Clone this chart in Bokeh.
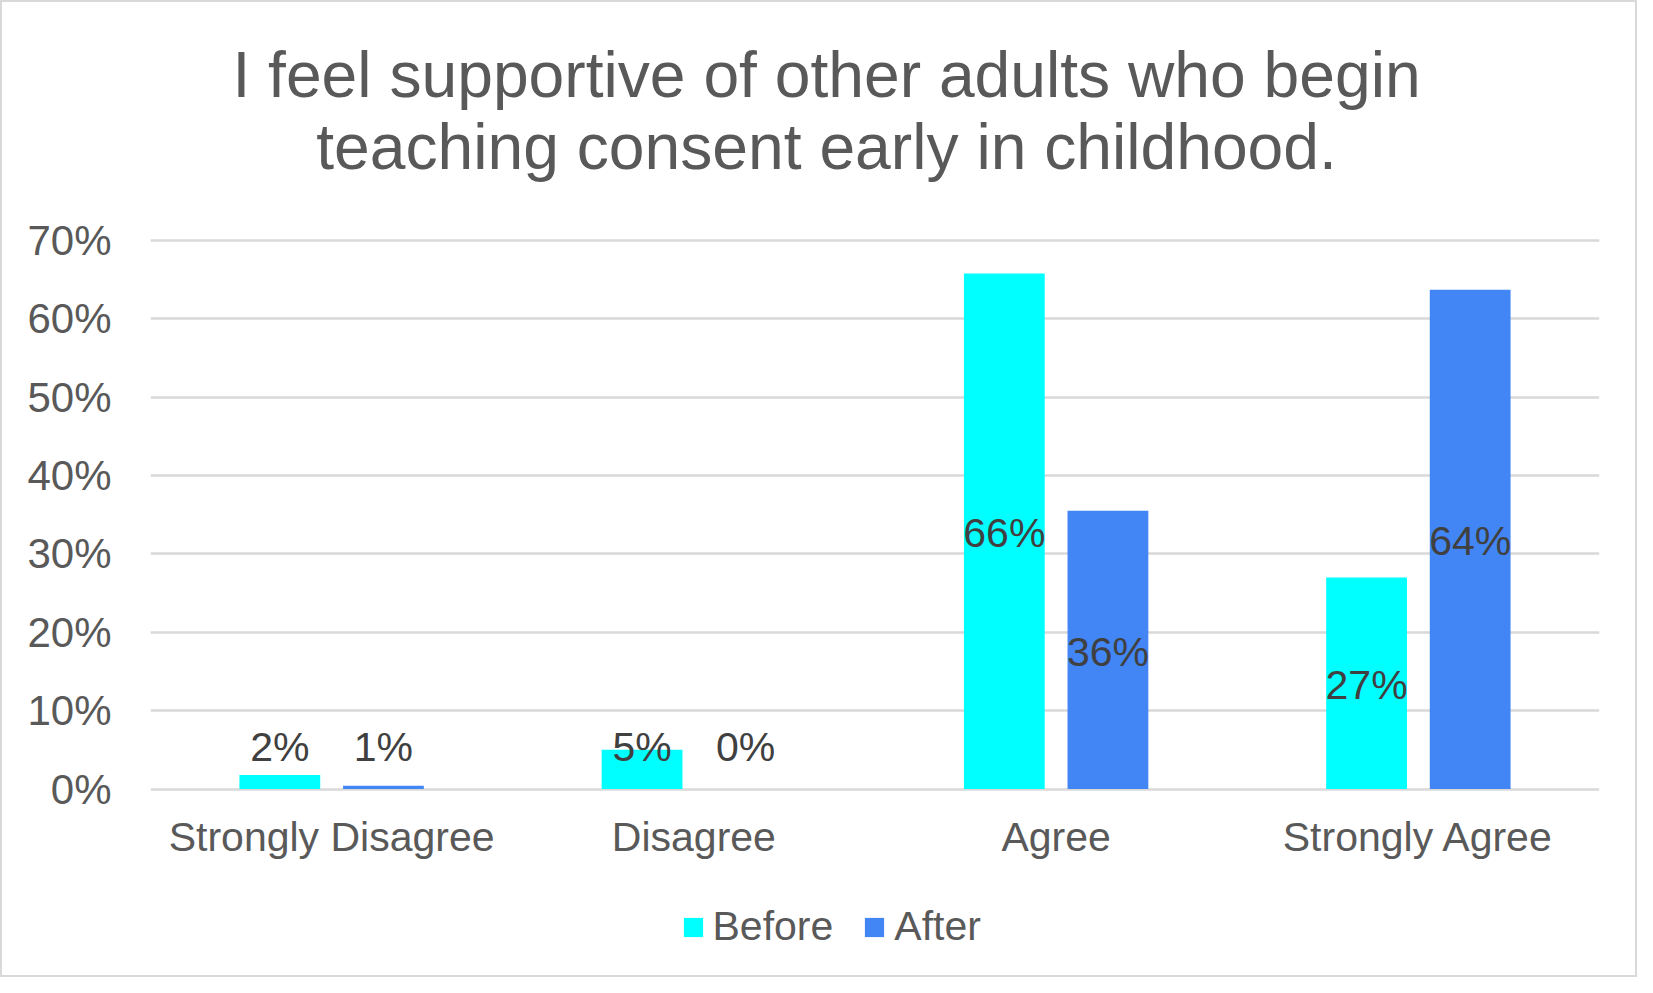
from bokeh.plotting import figure
from bokeh.models import (FactorRange, Range1d, FixedTicker, NumeralTickFormatter,
                          ColumnDataSource, Legend, LegendItem)
from bokeh.transform import dodge
from bokeh.core.properties import value
from bokeh.embed import file_html
from bokeh.resources import INLINE

categories = ["Strongly Disagree", "Disagree", "Agree", "Strongly Agree"]
before = [0.018, 0.050, 0.658, 0.270]
after = [0.004, 0.0, 0.355, 0.637]
before_labels = ["2%", "5%", "66%", "27%"]
after_labels = ["1%", "0%", "36%", "64%"]
y_ticks = [0.0, 0.1, 0.2, 0.3, 0.4, 0.5, 0.6, 0.7]
title_lines = ["I feel supportive of other adults who begin",
               "teaching consent early in childhood."]

FONT = "Liberation Sans"
CYAN = "#00FFFF"
BLUE = "#4285F4"
GREY_TEXT = "#595959"

# layout constants (pixels)
W, H = 1637, 977
D = 2.5               # compensation for the 2px page border
LEFT, RIGHT = 150 - D, 1600 - D
Y0 = 789.0 - D        # pixel row of the 0% line
PX = 783.6            # pixels per unit (100%)


def py(pix):
    """pixel row -> data y"""
    return (Y0 - pix) / PX


def px_x(pix):
    """pixel column -> synthetic categorical x"""
    return (pix - LEFT) / (RIGHT - LEFT) * len(categories)


LAB_FS = 41
lab_off = 2.0 / PX
lab_min = 41.7 / PX
src = ColumnDataSource(dict(
    cat=categories, before=before, after=after,
    bl=before_labels, al=after_labels,
    by=[max(v / 2 - lab_off, lab_min) for v in before],
    ay=[max(v / 2 - lab_off, lab_min) for v in after],
    cy=[py(Y0 + 25)] * len(categories),
))

p = figure(width=W, height=H, x_range=FactorRange(*categories),
           y_range=Range1d(py(H), py(0)), output_backend="svg",
           toolbar_location=None, x_axis_location=None,
           min_border_left=int(round(LEFT)), min_border_right=int(round(W - RIGHT)),
           min_border_top=0, min_border_bottom=0)
p.title = None

# title (two centred lines)
p.text(x=[px_x(826.5 - D)] * 2, y=[py(74.5 - D), py(146.5 - D)], text=title_lines,
       text_align="center", text_baseline="alphabetic", text_font=value(FONT),
       text_font_size="64.2px", text_color=GREY_TEXT)

bw = 0.223
off = 0.143
rb = p.vbar(x=dodge("cat", -off, range=p.x_range), top="before", width=bw, source=src,
            fill_color=CYAN, line_color=None)
ra = p.vbar(x=dodge("cat", off, range=p.x_range), top="after", width=bw, source=src,
            fill_color=BLUE, line_color=None)

# data labels
p.text(x=dodge("cat", -off, range=p.x_range), y="by", text="bl", source=src,
       text_align="center", text_baseline="alphabetic", text_font=value(FONT),
       text_font_size=f"{LAB_FS}px", text_color="#404040")
p.text(x=dodge("cat", off, range=p.x_range), y="ay", text="al", source=src,
       text_align="center", text_baseline="alphabetic", text_font=value(FONT),
       text_font_size=f"{LAB_FS}px", text_color="#404040")

# category labels
p.text(x="cat", y="cy", text="cat", source=src, text_align="center",
       text_baseline="top", text_font=value(FONT), text_font_size="41px",
       text_color=GREY_TEXT)

p.outline_line_color = None
p.xgrid.grid_line_color = None
p.ygrid.grid_line_color = "#D9D9D9"
p.ygrid.grid_line_width = 2.5
p.ygrid.ticker = FixedTicker(ticks=y_ticks)

p.yaxis.ticker = FixedTicker(ticks=y_ticks)
p.yaxis.formatter = NumeralTickFormatter(format="0%")
p.yaxis.axis_line_color = None
p.yaxis.major_tick_line_color = None
p.yaxis.minor_tick_line_color = None
p.yaxis.major_label_text_font = FONT
p.yaxis.major_label_text_font_size = "42px"
p.yaxis.major_label_text_color = GREY_TEXT
p.yaxis.major_label_standoff = 33

legend = Legend(items=[LegendItem(label="Before", renderers=[rb]),
                       LegendItem(label="After", renderers=[ra])],
                orientation="horizontal", location=(530.5, 29),
                label_text_font=FONT, label_text_font_size="41px",
                label_text_color=GREY_TEXT, glyph_width=24, glyph_height=24,
                label_height=20, label_standoff=8, spacing=29,
                border_line_color=None, background_fill_alpha=0,
                margin=0, padding=0)
p.add_layout(legend, "center")

p.styles = {"border": "2px solid #D9D9D9", "box-sizing": "border-box"}

open("out.html", "w").write(file_html(p, INLINE))
